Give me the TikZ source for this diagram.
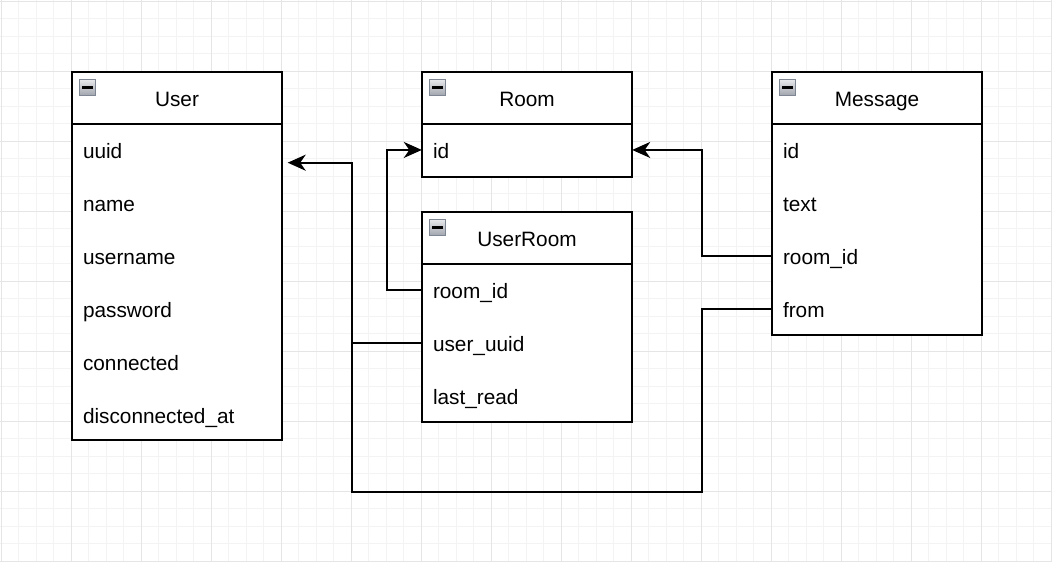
\documentclass[tikz,border=0pt]{standalone}
\usepackage{fontspec}
\setmainfont{Liberation Sans}
\usetikzlibrary{arrows.meta,calc}
\definecolor{gridminor}{HTML}{F3F3F3}
\definecolor{gridmajor}{HTML}{E5E5E5}
\definecolor{iconedge}{HTML}{7E8694}
\definecolor{icontop}{HTML}{E6E7EA}
\definecolor{iconbot}{HTML}{A2A6AE}
\begin{document}
\begin{tikzpicture}[x=1pt,y=-1pt,
  every node/.style={font=\fontsize{20.8}{24}\selectfont},
  tbl/.style={draw=black,line width=2pt,fill=white,anchor=north west,
    minimum width=210pt,inner sep=0pt},
  hdr/.style={draw=black,line width=2pt},
  title/.style={inner sep=0pt,text height=20pt,text depth=2pt},
  row/.style={inner xsep=11pt,inner ysep=0pt,text width=188pt,align=left,
    minimum height=52.5pt,text height=20pt,text depth=2pt,anchor=north},
  icon/.style={draw=iconedge,line width=1.2pt,top color=icontop,bottom color=iconbot,
    minimum size=15.5pt,inner sep=0pt},
  minus/.style={line width=3pt},
  conn/.style={line width=2pt,draw=black},
  tip/.style={-{Stealth[length=18pt,width=16pt,inset=5.5pt]}}
]
\useasboundingbox (0,0) rectangle (1052,562);
% background grid
\fill[white] (0,0) rectangle (1052,562);
\foreach \i in {0,...,60}{
  \draw[gridminor,line width=1pt] ({1+17.5*\i},0) -- ({1+17.5*\i},562);}
\foreach \j in {0,...,32}{
  \draw[gridminor,line width=1pt] (0,{1+17.5*\j}) -- (1052,{1+17.5*\j});}
\foreach \i in {0,...,15}{
  \draw[gridmajor,line width=1pt] ({1+70*\i},0) -- ({1+70*\i},562);}
\foreach \j in {0,...,8}{
  \draw[gridmajor,line width=1pt] (0,{1+70*\j}) -- (1052,{1+70*\j});}

% table User
\node[tbl,minimum height=367.5pt] (user) at (71,71) {};
\draw[hdr] ($(user.north west)+(0,52.5)$) -- ($(user.north east)+(0,52.5)$);
\node[title] (usertitle) at ($(user.north)+(0,26.25)$) {User};
\node[icon] (usericon) at ($(user.north west)+(16.5,16.5)$) {};
\draw[minus] ($(usericon.center)+(-5.5,0)$) -- ($(usericon.center)+(5.5,0)$);
\node[row] (useruuid) at ($(user.north)+(0,52.5)$) {uuid};
\node[row] (username) at (useruuid.south) {name};
\node[row] (userlogin) at (username.south) {username};
\node[row] (userpass) at (userlogin.south) {password};
\node[row] (userconn) at (userpass.south) {connected};
\node[row] (userdisc) at (userconn.south) {disconnected\_at};

% table Room
\node[tbl,minimum height=105pt] (room) at (421,71) {};
\draw[hdr] ($(room.north west)+(0,52.5)$) -- ($(room.north east)+(0,52.5)$);
\node[title] (roomtitle) at ($(room.north)+(0,26.25)$) {Room};
\node[icon] (roomicon) at ($(room.north west)+(16.5,16.5)$) {};
\draw[minus] ($(roomicon.center)+(-5.5,0)$) -- ($(roomicon.center)+(5.5,0)$);
\node[row] (roomid) at ($(room.north)+(0,52.5)$) {id};

% table UserRoom
\node[tbl,minimum height=210pt] (ur) at (421,211) {};
\draw[hdr] ($(ur.north west)+(0,52.5)$) -- ($(ur.north east)+(0,52.5)$);
\node[title] (urtitle) at ($(ur.north)+(0,26.25)$) {UserRoom};
\node[icon] (uricon) at ($(ur.north west)+(16.5,16.5)$) {};
\draw[minus] ($(uricon.center)+(-5.5,0)$) -- ($(uricon.center)+(5.5,0)$);
\node[row] (urroom) at ($(ur.north)+(0,52.5)$) {room\_id};
\node[row] (uruser) at (urroom.south) {user\_uuid};
\node[row] (urread) at (uruser.south) {last\_read};

% table Message
\node[tbl,minimum height=262.5pt] (msg) at (771,71) {};
\draw[hdr] ($(msg.north west)+(0,52.5)$) -- ($(msg.north east)+(0,52.5)$);
\node[title] (msgtitle) at ($(msg.north)+(0,26.25)$) {Message};
\node[icon] (msgicon) at ($(msg.north west)+(16.5,16.5)$) {};
\draw[minus] ($(msgicon.center)+(-5.5,0)$) -- ($(msgicon.center)+(5.5,0)$);
\node[row] (msgid) at ($(msg.north)+(0,52.5)$) {id};
\node[row] (msgtext) at (msgid.south) {text};
\node[row] (msgroom) at (msgtext.south) {room\_id};
\node[row] (msgfrom) at (msgroom.south) {from};

% foreign keys
\coordinate (userin) at ($(useruuid.east)+(5.5,12.75)$);
\draw[conn,tip] (urroom.west) -- ++(-35,0) |- (roomid.west);
\draw[conn,tip] (uruser.west) -- ++(-70,0) |- (userin);
\draw[conn,tip] (msgroom.west) -- ++(-70,0) |- (roomid.east);
\draw[conn] (msgfrom.west) -- ++(-70,0) |- ($(uruser.west)+(-70,149.25)$)
  -- ($(uruser.west)+(-70,0)$);
\end{tikzpicture}
\end{document}
